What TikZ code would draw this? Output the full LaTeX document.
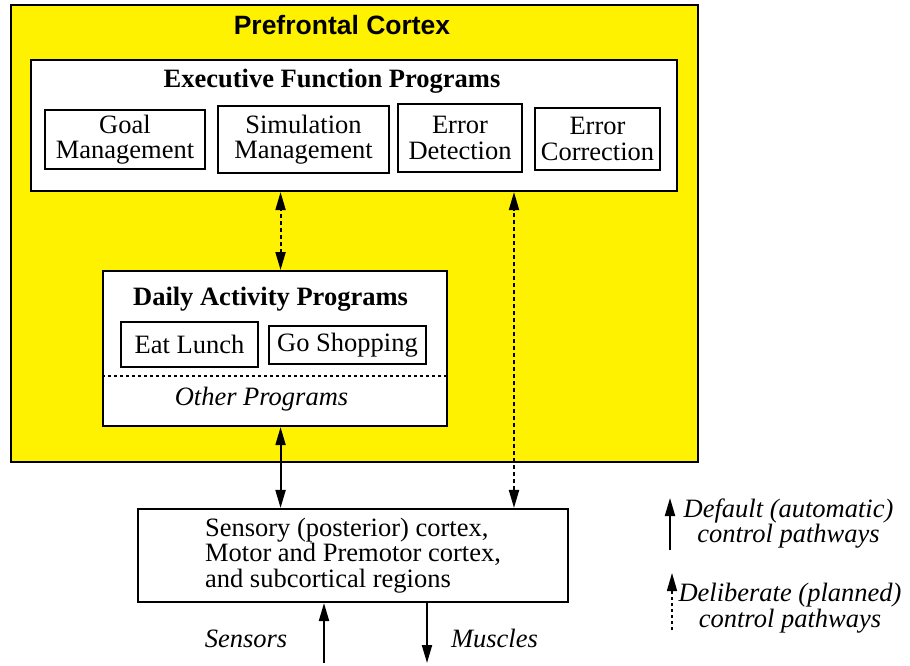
\documentclass[tikz,border=0pt]{standalone}
\usepackage{fontspec}
\setmainfont{Liberation Serif}
\newfontfamily\headfont{Liberation Sans}
\usetikzlibrary{arrows.meta}
\newcommand{\bodysize}{\fontsize{26.5pt}{25.5pt}\selectfont}

\begin{document}
\begin{tikzpicture}[x=1pt,y=-1pt,
	>={Triangle[length=18pt,width=10pt]},
	every node/.style={font=\bodysize},
	box/.style={draw, line width=2.1pt, fill=white, inner sep=0pt},
	prog/.style={draw, line width=1.9pt, fill=white, align=center, inner sep=0pt},
	title/.style={anchor=base, font=\bodysize\bfseries},
	note/.style={font=\bodysize\itshape},
	flow/.style={line width=2pt},
	automatic/.style={flow, <->},
	deliberate/.style={automatic, dash pattern=on 4pt off 3pt}]
			\useasboundingbox (0,0) rectangle (910,666);
			% Prefrontal cortex
			\node (pfc) [box, fill=yellow, anchor=north west, minimum width=687pt, minimum height=457pt] at (10,4) {};
			\node (pfctitle) [anchor=base, font=\bodysize\headfont\bfseries] at (342,35) {Prefrontal Cortex};
			% Executive function programs
			\node (exec) [box, anchor=north west, minimum width=646pt, minimum height=131pt] at (30,59) {};
			\node (exectitle) [title] at (332,88) {Executive Function Programs};
			\node (goal) [prog, minimum width=160pt, minimum height=59pt] at (125,139.5) {Goal\\Management};
			\node (sim) [prog, minimum width=171pt, minimum height=67pt] at (303.5,139.5) {Simulation\\Management};
			\node (errdet) [prog, minimum width=124pt, minimum height=68pt] at (460,138) {Error\\Detection};
			\node (errcor) [prog, minimum width=125pt, minimum height=62pt] at (597.5,139) {Error\\Correction};
			% Daily activity programs
			\node (daily) [box, anchor=north west, minimum width=344pt, minimum height=155pt] at (102,270) {};
			\node (dailytitle) [title] at (270.5,305) {Daily Activity Programs};
			\node (lunch) [prog, minimum width=137pt, minimum height=45pt] at (189.5,344.5) {Eat Lunch};
			\node (shopping) [prog, minimum width=157pt, minimum height=38pt] at (347.5,345) {Go Shopping};
			\draw[line width=1.4pt, dash pattern=on 3pt off 3pt] ([yshift=-106pt]daily.north west) -- ([yshift=-106pt]daily.north east);
			\node (other) [note, anchor=base] at (261.5,405) {Other Programs};
			% Sensory and motor regions
			\node (sens) [box, align=left, minimum width=430pt, minimum height=93pt] at (353,555.5) {Sensory (posterior) cortex,\\Motor and Premotor cortex,\\and subcortical regions};
			% Pathways
			\draw[deliberate] ([xshift=5.5pt]daily.north) -- ([xshift=5.5pt]daily.north |- exec.south);
			\draw[automatic] ([xshift=5.5pt]daily.south) -- ([xshift=5.5pt]daily.south |- sens.north);
			\draw[deliberate] ([xshift=161pt]sens.north) -- ([xshift=161pt]sens.north |- exec.south);
			% Sensors and muscles
			\coordinate (sensorsin) at (324,663);
			\coordinate (musclesout) at (427,663);
			\draw[flow, ->] (sensorsin) -- (sensorsin |- sens.south);
			\draw[flow, ->] (musclesout |- sens.south) -- (musclesout);
			\node (sensors) [note, anchor=base] at (246,647) {Sensors};
			\node (muscles) [note, anchor=base] at (494.5,647) {Muscles};
			% Legend
			\coordinate (autofoot) at (670,550);
			\draw[flow, ->] (autofoot) -- ++(0,-52);
			\node (autotext) [note, align=center] at (788.5,523.3) {Default (automatic)\\control pathways};
			\coordinate (delibfoot) at (672,630);
			\draw[line width=1.5pt, dash pattern=on 3pt off 3pt, ->] (delibfoot) -- ++(0,-57);
			\node (delibtext) [note, align=center] at (790,608.3) {Deliberate (planned)\\control pathways};
		\end{tikzpicture}
\end{document}
